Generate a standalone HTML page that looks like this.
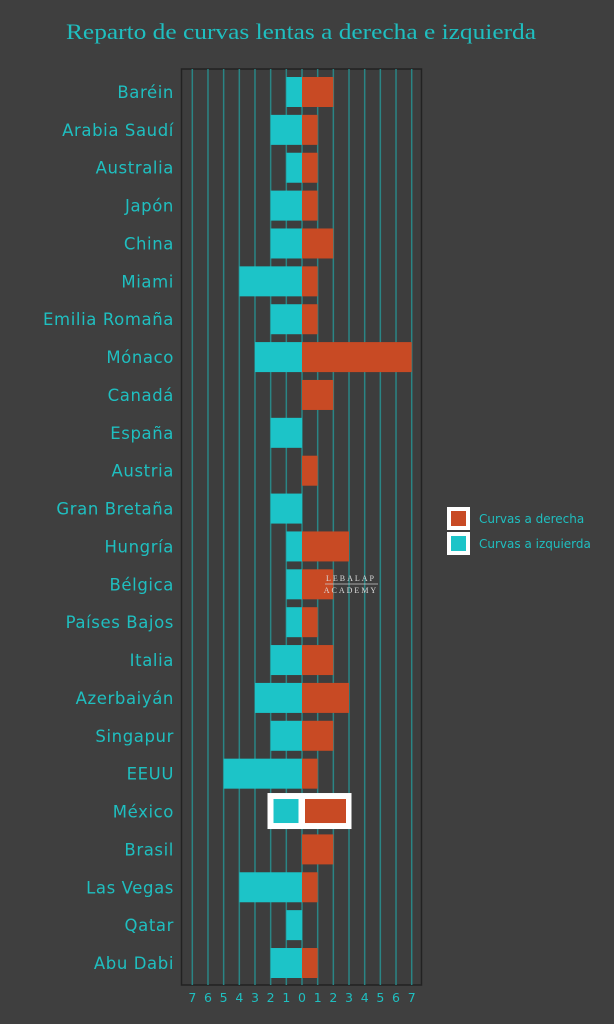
<!DOCTYPE html>
<html><head><meta charset="utf-8"><style>
body{margin:0;background:#3f3f3f}
svg{display:block}
</style></head><body>
<svg width="614" height="1024" xmlns="http://www.w3.org/2000/svg">
<rect width="614" height="1024" fill="#3f3f3f"/>
<text x="301" y="39" text-anchor="middle" font-family="Liberation Serif, serif" font-size="22" fill="#1fbfc0" textLength="470" lengthAdjust="spacingAndGlyphs">Reparto de curvas lentas a derecha e izquierda</text>
<rect x="181.5" y="69" width="240" height="916" fill="#3d3d3d" stroke="#222" stroke-width="1.5"/>
<g id="grid" stroke="#2a8585" stroke-width="1.5"></g>
<g id="bars"></g>
<g id="labels" font-family="DejaVu Sans, sans-serif" font-size="16.5" letter-spacing="0.6" fill="#1fbfc0" text-anchor="end"></g>
<g id="ticks" font-family="DejaVu Sans, sans-serif" font-size="12.5" fill="#1fbfc0" text-anchor="middle"></g>
<text x="351" y="581" text-anchor="middle" font-family="Liberation Serif, serif" font-size="8" fill="#ddd" letter-spacing="2">LEBALAP</text>
<line x1="325" y1="584" x2="378" y2="584" stroke="#ccc" stroke-width="0.7"/>
<text x="351" y="593" text-anchor="middle" font-family="Liberation Serif, serif" font-size="8" fill="#ddd" letter-spacing="2">ACADEMY</text>
<rect x="447" y="507" width="23" height="23" fill="#fff"/><rect x="451" y="511" width="15" height="15" fill="#c84a24"/>
<rect x="447" y="532" width="23" height="23" fill="#fff"/><rect x="451" y="536" width="15" height="15" fill="#1cc4c8"/>
<text x="479" y="523" font-family="DejaVu Sans, sans-serif" font-size="12" fill="#1fbfc0">Curvas a derecha</text>
<text x="479" y="548" font-family="DejaVu Sans, sans-serif" font-size="12" fill="#1fbfc0">Curvas a izquierda</text>
</svg>
<script>
const ns="http://www.w3.org/2000/svg";
const z=302,u=15.67;
const d=[["Baréin",1,2],["Arabia Saudí",2,1],["Australia",1,1],["Japón",2,1],["China",2,2],["Miami",4,1],["Emilia Romaña",2,1],["Mónaco",3,7],["Canadá",0,2],["España",2,0],["Austria",0,1],["Gran Bretaña",2,0],["Hungría",1,3],["Bélgica",1,2],["Países Bajos",1,1],["Italia",2,2],["Azerbaiyán",3,3],["Singapur",2,2],["EEUU",5,1],["México",2,3],["Brasil",0,2],["Las Vegas",4,1],["Qatar",1,0],["Abu Dabi",2,1]];
function el(p,t,a,txt){const e=document.createElementNS(ns,t);for(const k in a)e.setAttribute(k,a[k]);if(txt!==undefined)e.textContent=txt;document.getElementById(p).appendChild(e);}
for(let i=-7;i<=7;i++){const x=z+i*u;el("grid","line",{x1:x,y1:69,x2:x,y2:985});el("ticks","text",{x:x,y:1002},String(Math.abs(i)));}
d.forEach((r,i)=>{const c=92+i*37.87;el("labels","text",{x:174,y:c+6},r[0]);
if(r[0]=="México"){el("bars","rect",{x:267.5,y:c-18.5,width:84,height:36,fill:"#fff"});el("bars","rect",{x:273.5,y:c-12.5,width:25,height:24,fill:"#1cc4c8"});el("bars","rect",{x:305,y:c-12.5,width:41,height:24,fill:"#c84a24"});return;}
if(r[1])el("bars","rect",{x:z-r[1]*u,y:c-15,width:r[1]*u,height:30,fill:"#1cc4c8"});
if(r[2])el("bars","rect",{x:z,y:c-15,width:r[2]*u,height:30,fill:"#c84a24"});});
</script>
</body></html>
